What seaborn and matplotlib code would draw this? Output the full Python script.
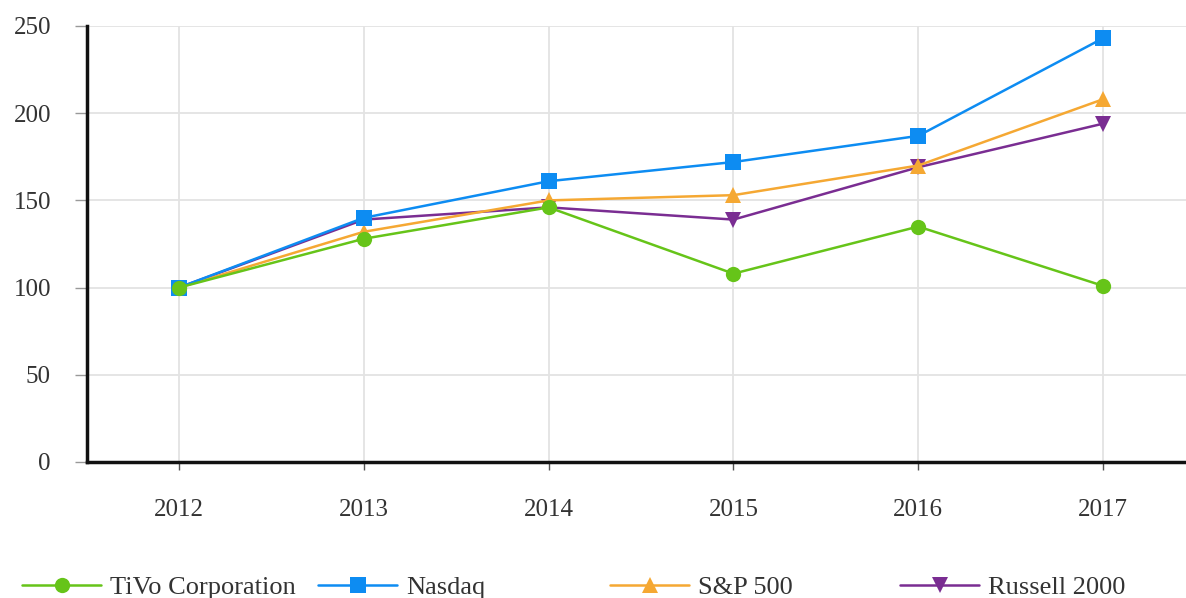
import seaborn as sns
import matplotlib.pyplot as plt
import pandas as pd

years = [2012, 2013, 2014, 2015, 2016, 2017]

tivo = [100, 128, 146, 108, 135, 101]
nasdaq = [100, 140, 161, 172, 187, 243]
sp500 = [100, 132, 150, 153, 170, 208]
russell = [100, 139, 146, 139, 169, 194]

series = {
    'TiVo Corporation': tivo,
    'Nasdaq': nasdaq,
    'S&P 500': sp500,
    'Russell 2000': russell,
}

colors = {
    'TiVo Corporation': '#66c419',
    'Nasdaq': '#0d8cf2',
    'S&P 500': '#f5a833',
    'Russell 2000': '#7a2d92',
}
markers = {
    'TiVo Corporation': 'o',
    'Nasdaq': 's',
    'S&P 500': '^',
    'Russell 2000': 'v',
}

rows = []
for name, vals in series.items():
    for y, v in zip(years, vals):
        rows.append({'year': y, 'value': v, 'series': name})
df = pd.DataFrame(rows)

sns.set_style('white')
plt.rcParams['font.family'] = ['Liberation Serif', 'DejaVu Serif']

fig = plt.figure(figsize=(11.86, 5.98), dpi=100)
ax = fig.add_axes([87 / 1186, 136 / 598, (1186 - 87) / 1186, 436 / 598])

# draw last series first so TiVo sits on top
order = list(series.keys())[::-1]
sns.lineplot(data=df, x='year', y='value', hue='series', style='series',
             hue_order=order, style_order=order, palette=colors,
             markers=markers, dashes=False, markersize=11, linewidth=1.8,
             markeredgewidth=0, ax=ax)

handles, labels = ax.get_legend_handles_labels()
ax.get_legend().remove()
hmap = dict(zip(labels, handles))

ax.set_xlim(2012 - 92 / 185, 2017 + 83 / 185)
ax.set_ylim(0, 250)
ax.set_xticks(years)
ax.set_yticks([0, 50, 100, 150, 200, 250])
ax.set_xlabel('')
ax.set_ylabel('')
ax.grid(True, color='#e3e3e3', linewidth=1.3)
ax.set_axisbelow(True)

for s in ['top', 'right']:
    ax.spines[s].set_visible(False)
for s in ['left', 'bottom']:
    ax.spines[s].set_color('#111111')
    ax.spines[s].set_linewidth(2.5)

ax.tick_params(axis='y', length=9, width=1, color='#999999', pad=17,
               labelsize=18, labelcolor='#333333', left=True)
ax.tick_params(axis='x', length=6, width=1, color='#555555', pad=21,
               labelsize=18, labelcolor='#333333', bottom=True)

legend_x = [22, 318, 610, 900]
for name, lx in zip(series.keys(), legend_x):
    fig.legend([hmap[name]], [name], loc='center left',
               bbox_to_anchor=(lx / 1186, 11 / 598), frameon=False,
               fontsize=19, handlelength=3.0, handletextpad=0.35,
               borderpad=0, borderaxespad=0, labelcolor='#333333')

fig.savefig('out.png', dpi=100)
